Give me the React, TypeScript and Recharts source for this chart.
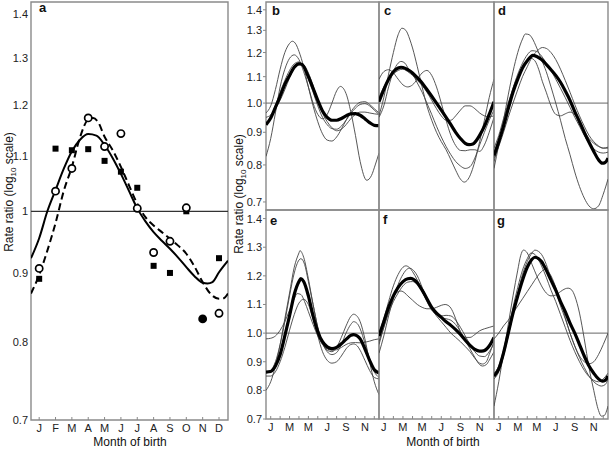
import React from 'react';
import { ComposedChart, LineChart, Line, Scatter, XAxis, YAxis, ReferenceArea, ReferenceLine } from 'recharts';

type Pt = [number, number];

const FONT = '"Liberation Sans", Arial, Helvetica, sans-serif';

const monthLetters = ['J', 'F', 'M', 'A', 'M', 'J', 'J', 'A', 'S', 'O', 'N', 'D'];
const monthNums = [1, 2, 3, 4, 5, 6, 7, 8, 9, 10, 11, 12];
const rateTicks = [0.7, 0.8, 0.9, 1.0, 1.1, 1.2, 1.3, 1.4];

// panel a: observed rate ratios per month (null = not shown)
const aSquares = [0.891, 1.113, 1.11, 1.112, 1.09, 1.07, 1.041, 0.911, 0.9, 1.0, null, 0.923];
const aCircles = [0.907, 1.035, 1.076, 1.173, 1.117, 1.142, 1.005, 0.932, 0.95, 1.006, null, 0.84];
const aFilled = [null, null, null, null, null, null, null, null, null, null, 0.832, null];

// panel a: fitted curves [month, ratio]
const aSolid: Pt[] = [[0.5, 0.923], [1, 0.955], [1.5, 1.0], [2, 1.037], [2.5, 1.075], [3, 1.108], [3.5, 1.13], [4, 1.141], [4.5, 1.138], [5, 1.12], [5.5, 1.095], [6, 1.066], [6.5, 1.035], [7, 1.005], [7.5, 0.983], [8, 0.965], [8.5, 0.951], [9, 0.938], [9.5, 0.924], [10, 0.909], [10.5, 0.895], [11, 0.885], [11.3, 0.884], [11.6, 0.886], [12, 0.901], [12.55, 0.919]];
const aDashed: Pt[] = [[0.5, 0.869], [1, 0.897], [1.5, 0.935], [2, 0.98], [2.5, 1.035], [3, 1.079], [3.5, 1.135], [4, 1.17], [4.3, 1.173], [4.6, 1.165], [5, 1.136], [5.5, 1.11], [6, 1.079], [6.5, 1.045], [7, 1.013], [7.5, 0.99], [8, 0.976], [8.5, 0.965], [9, 0.954], [9.5, 0.943], [10, 0.93], [10.5, 0.91], [11, 0.886], [11.5, 0.868], [12, 0.861], [12.3, 0.862], [12.55, 0.869]];

// panel b
const bThick: Pt[] = [[0.5, 0.925], [1, 0.948], [1.5, 0.985], [2, 1.025], [2.5, 1.07], [3, 1.105], [3.5, 1.138], [4, 1.152], [4.3, 1.15], [5, 1.1], [5.5, 1.055], [6, 1.01], [6.5, 0.972], [7, 0.95], [7.5, 0.94], [8, 0.94], [8.5, 0.946], [9, 0.955], [9.5, 0.962], [10, 0.963], [10.5, 0.957], [11, 0.945], [11.5, 0.932], [12, 0.923], [12.5, 0.922]];
const b1: Pt[] = [[0.5, 0.825], [1, 0.88], [1.5, 0.965], [2, 1.06], [2.5, 1.13], [3, 1.175], [3.5, 1.19], [4, 1.17], [4.5, 1.12], [5, 1.06], [5.5, 1.0], [6, 0.96], [6.5, 0.945], [7, 0.96], [7.5, 1.0], [8, 1.045], [8.4, 1.062], [9, 1.035], [9.5, 0.97], [10, 0.89], [10.5, 0.81], [11.2, 0.757], [11.7, 0.77], [12.1, 0.8], [12.5, 0.835]];
const b2: Pt[] = [[0.5, 0.965], [1, 0.99], [1.5, 1.05], [2, 1.13], [2.5, 1.2], [3, 1.24], [3.3, 1.25], [3.7, 1.235], [4, 1.205], [4.5, 1.14], [5, 1.06], [5.5, 0.99], [6, 0.935], [6.5, 0.895], [7, 0.875], [7.5, 0.872], [8, 0.885], [8.5, 0.91], [9, 0.94], [9.5, 0.968], [10, 0.99], [10.5, 1.003], [11, 1.005], [11.5, 0.995], [12, 0.98], [12.5, 0.965]];
const b3: Pt[] = [[0.5, 0.93], [1, 0.95], [1.5, 0.99], [2, 1.04], [2.5, 1.085], [3, 1.125], [3.5, 1.152], [4, 1.16], [4.5, 1.14], [5, 1.09], [5.5, 1.04], [6, 0.99], [6.5, 0.95], [7, 0.925], [7.5, 0.912], [8, 0.91], [8.5, 0.92], [9, 0.94], [9.5, 0.963], [10, 0.982], [10.5, 0.995], [11, 0.998], [11.5, 0.99], [12, 0.975], [12.5, 0.96]];
const b4: Pt[] = [[0.5, 0.95], [1, 0.958], [1.5, 0.98], [2, 1.01], [2.5, 1.05], [3, 1.095], [3.5, 1.135], [4, 1.155], [4.5, 1.148], [5, 1.115], [5.5, 1.065], [6, 1.01], [6.5, 0.965], [7, 0.935], [7.5, 0.915], [8, 0.905], [8.5, 0.91], [9, 0.925], [9.5, 0.945], [10, 0.96], [10.5, 0.968], [11, 0.968], [11.5, 0.965], [12, 0.962], [12.5, 0.96]];

// panel c
const cThick: Pt[] = [[0.5, 1.005], [1, 1.05], [1.5, 1.09], [2, 1.12], [2.5, 1.135], [2.8, 1.138], [3, 1.137], [3.5, 1.128], [4, 1.115], [4.5, 1.096], [5, 1.075], [5.5, 1.05], [6, 1.025], [6.5, 1.0], [7, 0.975], [7.5, 0.95], [8, 0.925], [8.5, 0.9], [9, 0.88], [9.5, 0.865], [9.9, 0.861], [10.3, 0.863], [11, 0.89], [11.5, 0.92], [12, 0.96], [12.5, 1.005]];
const c1: Pt[] = [[0.5, 0.955], [1, 1.02], [1.5, 1.11], [2, 1.2], [2.5, 1.28], [2.9, 1.31], [3.3, 1.3], [3.7, 1.26], [4, 1.22], [4.5, 1.14], [5, 1.06], [5.5, 0.99], [6, 0.94], [6.5, 0.9], [7, 0.87], [7.5, 0.845], [8, 0.815], [8.5, 0.785], [9, 0.76], [9.4, 0.752], [9.8, 0.76], [10.5, 0.81], [11, 0.87], [11.5, 0.94], [12, 1.02], [12.5, 1.09]];
const c2: Pt[] = [[0.5, 1.09], [1, 1.12], [1.5, 1.128], [2, 1.115], [2.5, 1.09], [3, 1.068], [3.5, 1.06], [4, 1.068], [4.5, 1.09], [5, 1.115], [5.5, 1.125], [6, 1.105], [6.5, 1.06], [7, 1.0], [7.5, 0.94], [8, 0.89], [8.5, 0.858], [9, 0.843], [9.5, 0.842], [10, 0.845], [10.5, 0.845], [11, 0.84], [11.5, 0.86], [12, 0.9], [12.5, 0.95]];
const c3: Pt[] = [[0.5, 0.95], [1, 0.99], [1.5, 1.06], [2, 1.12], [2.5, 1.155], [2.8, 1.162], [3.2, 1.155], [3.6, 1.13], [4, 1.11], [4.5, 1.075], [5, 1.04], [5.5, 1.0], [6, 0.96], [6.5, 0.92], [7, 0.885], [7.5, 0.855], [8, 0.83], [8.5, 0.81], [9, 0.797], [9.5, 0.79], [10, 0.795], [10.5, 0.82], [11, 0.86], [11.5, 0.9], [12, 0.94], [12.5, 0.975]];
const c4: Pt[] = [[0.5, 1.02], [1, 1.06], [1.5, 1.09], [2, 1.11], [2.5, 1.125], [3, 1.13], [3.5, 1.12], [4, 1.105], [4.5, 1.085], [5, 1.065], [5.5, 1.04], [6, 1.01], [6.5, 0.98], [7, 0.955], [7.5, 0.94], [8, 0.94], [8.5, 0.955], [9, 0.975], [9.5, 0.99], [10, 0.99], [10.5, 0.98], [11, 0.965], [11.5, 0.955], [12, 0.952], [12.5, 0.955]];

// panel d
const dThick: Pt[] = [[0.5, 0.828], [1, 0.87], [1.5, 0.92], [2, 0.98], [2.5, 1.04], [3, 1.09], [3.5, 1.135], [4, 1.165], [4.6, 1.188], [5, 1.183], [5.5, 1.17], [6, 1.15], [6.5, 1.128], [7, 1.105], [7.5, 1.078], [8, 1.045], [8.5, 1.01], [9, 0.97], [9.5, 0.935], [10, 0.9], [10.5, 0.868], [11, 0.84], [11.5, 0.815], [11.9, 0.805], [12.2, 0.807], [12.5, 0.82]];
const d1: Pt[] = [[0.5, 0.79], [1, 0.86], [1.5, 0.94], [2, 1.03], [2.5, 1.12], [3, 1.2], [3.5, 1.26], [3.8, 1.283], [4.2, 1.28], [4.5, 1.265], [5, 1.22], [5.5, 1.17], [6, 1.12], [6.5, 1.06], [7, 1.0], [7.5, 0.94], [8, 0.88], [8.5, 0.83], [9, 0.78], [9.5, 0.74], [10, 0.71], [10.5, 0.69], [11, 0.683], [11.5, 0.69], [12, 0.72], [12.5, 0.76]];
const d2: Pt[] = [[0.5, 0.82], [1, 0.855], [1.5, 0.9], [2, 0.95], [2.5, 1.0], [3, 1.05], [3.5, 1.1], [4, 1.14], [4.5, 1.18], [5, 1.205], [5.6, 1.222], [6, 1.218], [6.5, 1.2], [7, 1.17], [7.5, 1.13], [8, 1.085], [8.5, 1.04], [9, 0.995], [9.5, 0.955], [10, 0.92], [10.5, 0.89], [11, 0.87], [11.5, 0.857], [12, 0.85], [12.5, 0.85]];
const d3: Pt[] = [[0.5, 0.85], [1, 0.89], [1.5, 0.945], [2, 1.0], [2.5, 1.055], [3, 1.1], [3.5, 1.14], [4, 1.165], [4.4, 1.175], [4.8, 1.165], [5.2, 1.13], [5.6, 1.08], [6, 1.04], [6.5, 0.99], [7, 0.96], [7.5, 0.955], [8, 0.962], [8.5, 0.968], [9, 0.96], [9.5, 0.935], [10, 0.905], [10.5, 0.88], [11, 0.865], [11.5, 0.855], [12, 0.85], [12.5, 0.853]];
const d4: Pt[] = [[0.5, 0.81], [1, 0.86], [1.5, 0.925], [2, 0.99], [2.5, 1.055], [3, 1.11], [3.5, 1.155], [4, 1.19], [4.5, 1.208], [5, 1.205], [5.5, 1.185], [6, 1.155], [6.5, 1.125], [7, 1.09], [7.5, 1.055], [8, 1.02], [8.5, 0.985], [9, 0.95], [9.5, 0.92], [10, 0.89], [10.5, 0.865], [11, 0.848], [11.5, 0.838], [12, 0.835], [12.5, 0.838]];

// panel e
const eThick: Pt[] = [[0.5, 0.864], [1, 0.866], [1.5, 0.885], [2, 0.925], [2.5, 0.99], [3, 1.06], [3.5, 1.135], [4, 1.18], [4.2, 1.19], [4.5, 1.18], [5, 1.13], [5.5, 1.06], [6, 1.005], [6.5, 0.97], [7, 0.952], [7.5, 0.946], [8, 0.95], [8.5, 0.963], [9, 0.978], [9.5, 0.992], [9.8, 0.995], [10.2, 0.99], [10.5, 0.98], [11, 0.945], [11.5, 0.905], [12, 0.872], [12.5, 0.861]];
const e1: Pt[] = [[0.5, 0.8], [1, 0.83], [1.5, 0.885], [2, 0.96], [2.5, 1.05], [3, 1.14], [3.5, 1.23], [4, 1.28], [4.1, 1.288], [4.5, 1.265], [5, 1.19], [5.5, 1.1], [6, 1.02], [6.5, 0.965], [7, 0.94], [7.5, 0.935], [8, 0.95], [8.5, 0.985], [9, 1.025], [9.5, 1.058], [9.8, 1.066], [10.2, 1.058], [10.5, 1.04], [11, 0.98], [11.5, 0.9], [12, 0.83], [12.5, 0.785]];
const e2: Pt[] = [[0.5, 0.865], [1, 0.87], [1.5, 0.9], [2, 0.96], [2.5, 1.04], [3, 1.13], [3.5, 1.21], [4, 1.255], [4.2, 1.26], [4.6, 1.24], [5, 1.18], [5.5, 1.1], [6, 1.02], [6.5, 0.965], [7, 0.935], [7.5, 0.925], [8, 0.932], [8.5, 0.96], [9, 1.0], [9.5, 1.03], [9.8, 1.04], [10.2, 1.033], [10.5, 1.015], [11, 0.965], [11.5, 0.91], [12, 0.865], [12.5, 0.845]];
const e3: Pt[] = [[0.5, 0.98], [1, 0.982], [1.5, 0.99], [2, 1.01], [2.5, 1.04], [3, 1.08], [3.5, 1.12], [3.8, 1.138], [4.2, 1.135], [4.6, 1.11], [5, 1.075], [5.5, 1.03], [6, 0.99], [6.5, 0.96], [7, 0.945], [7.5, 0.94], [8, 0.942], [8.5, 0.95], [9, 0.96], [9.5, 0.966], [10, 0.967], [10.5, 0.966], [11, 0.968], [11.5, 0.972], [12, 0.977], [12.5, 0.98]];
const e4: Pt[] = [[0.5, 0.85], [1, 0.85], [1.5, 0.865], [2, 0.9], [2.5, 0.95], [3, 1.01], [3.5, 1.065], [4, 1.105], [4.5, 1.118], [5, 1.1], [5.5, 1.05], [6, 0.99], [6.5, 0.935], [7, 0.905], [7.5, 0.895], [8, 0.9], [8.5, 0.92], [9, 0.945], [9.5, 0.96], [9.8, 0.962], [10.2, 0.955], [10.5, 0.94], [11, 0.905], [11.5, 0.87], [12, 0.845], [12.5, 0.84]];

// panel f
const fThick: Pt[] = [[0.5, 0.99], [1, 1.04], [1.5, 1.09], [2, 1.13], [2.5, 1.16], [3, 1.18], [3.5, 1.19], [3.8, 1.191], [4.2, 1.185], [4.5, 1.175], [5, 1.15], [5.5, 1.12], [6, 1.09], [6.5, 1.07], [7, 1.055], [7.5, 1.04], [8, 1.027], [8.5, 1.012], [9, 0.995], [9.5, 0.975], [10, 0.957], [10.5, 0.943], [11, 0.937], [11.4, 0.938], [12, 0.955], [12.5, 0.985]];
const f1: Pt[] = [[0.5, 1.0], [1, 1.05], [1.5, 1.11], [2, 1.165], [2.5, 1.205], [3, 1.23], [3.3, 1.235], [3.7, 1.228], [4, 1.215], [4.5, 1.185], [5, 1.15], [5.5, 1.115], [6, 1.085], [6.5, 1.065], [7, 1.055], [7.5, 1.05], [8, 1.045], [8.5, 1.03], [9, 1.005], [9.5, 0.975], [10, 0.945], [10.5, 0.915], [11, 0.89], [11.3, 0.885], [11.7, 0.89], [12, 0.905], [12.5, 0.935]];
const f2: Pt[] = [[0.5, 0.96], [1, 1.02], [1.5, 1.08], [2, 1.125], [2.5, 1.145], [2.8, 1.147], [3.2, 1.14], [3.5, 1.13], [4, 1.115], [4.5, 1.1], [5, 1.09], [5.5, 1.085], [6, 1.085], [6.5, 1.09], [7, 1.097], [7.4, 1.1], [7.8, 1.095], [8.2, 1.075], [8.5, 1.05], [9, 1.005], [9.5, 0.985], [10, 0.985], [10.5, 0.995], [11, 1.008], [11.5, 1.015], [12, 1.02], [12.5, 1.025]];
const f3: Pt[] = [[0.5, 0.93], [1, 0.99], [1.5, 1.06], [2, 1.12], [2.5, 1.17], [3, 1.205], [3.5, 1.225], [3.7, 1.227], [4, 1.222], [4.5, 1.2], [5, 1.16], [5.5, 1.12], [6, 1.085], [6.5, 1.06], [7, 1.04], [7.5, 1.02], [8, 1.0], [8.5, 0.985], [9, 0.97], [9.5, 0.953], [10, 0.935], [10.5, 0.912], [11, 0.895], [11.3, 0.892], [11.7, 0.9], [12, 0.925], [12.5, 0.97]];
const f4: Pt[] = [[0.5, 0.97], [1, 1.02], [1.5, 1.07], [2, 1.11], [2.5, 1.14], [3, 1.165], [3.5, 1.178], [4, 1.18], [4.5, 1.17], [5, 1.145], [5.5, 1.11], [6, 1.08], [6.5, 1.065], [7, 1.06], [7.5, 1.062], [8, 1.06], [8.5, 1.045], [9, 1.02], [9.5, 0.99], [10, 0.96], [10.5, 0.935], [11, 0.92], [11.5, 0.918], [12, 0.935], [12.5, 0.965]];

// panel g
const gThick: Pt[] = [[0.5, 0.85], [1, 0.875], [1.5, 0.93], [2, 1.0], [2.5, 1.07], [3, 1.13], [3.5, 1.185], [4, 1.23], [4.5, 1.258], [4.8, 1.265], [5.2, 1.26], [5.5, 1.25], [6, 1.22], [6.5, 1.185], [7, 1.15], [7.5, 1.11], [8, 1.075], [8.5, 1.035], [9, 1.0], [9.5, 0.96], [10, 0.92], [10.5, 0.885], [11, 0.86], [11.5, 0.84], [11.9, 0.832], [12.2, 0.835], [12.5, 0.85]];
const g1: Pt[] = [[0.5, 0.745], [1, 0.83], [1.5, 0.93], [2, 1.03], [2.5, 1.13], [3, 1.22], [3.3, 1.27], [3.6, 1.29], [4, 1.28], [4.5, 1.24], [5, 1.2], [5.5, 1.165], [6, 1.14], [6.5, 1.13], [7, 1.133], [7.5, 1.145], [8, 1.155], [8.3, 1.157], [8.7, 1.15], [9, 1.13], [9.5, 1.07], [10, 0.98], [10.5, 0.88], [11, 0.8], [11.5, 0.73], [11.8, 0.71], [12.1, 0.712], [12.5, 0.745]];
const g2: Pt[] = [[0.5, 0.98], [1, 1.0], [1.5, 1.025], [2, 1.045], [2.5, 1.07], [3, 1.095], [3.5, 1.12], [4, 1.145], [4.5, 1.17], [5, 1.195], [5.5, 1.215], [5.8, 1.222], [6.2, 1.215], [6.5, 1.2], [7, 1.16], [7.5, 1.11], [8, 1.055], [8.5, 1.0], [9, 0.955], [9.5, 0.92], [10, 0.9], [10.5, 0.893], [11, 0.9], [11.5, 0.925], [12, 0.96], [12.5, 1.0]];
const g3: Pt[] = [[0.5, 0.84], [1, 0.865], [1.5, 0.92], [2, 0.99], [2.5, 1.065], [3, 1.14], [3.5, 1.205], [4, 1.25], [4.5, 1.28], [4.8, 1.29], [5.2, 1.285], [5.5, 1.275], [6, 1.24], [6.5, 1.19], [7, 1.145], [7.5, 1.095], [8, 1.05], [8.5, 1.0], [9, 0.955], [9.5, 0.915], [10, 0.88], [10.5, 0.85], [11, 0.83], [11.5, 0.818], [11.8, 0.815], [12.2, 0.82], [12.5, 0.84]];
const g4: Pt[] = [[0.5, 0.86], [1, 0.885], [1.5, 0.94], [2, 1.01], [2.5, 1.09], [3, 1.16], [3.5, 1.22], [4, 1.26], [4.4, 1.28], [4.8, 1.275], [5.2, 1.255], [5.5, 1.235], [6, 1.195], [6.5, 1.15], [7, 1.11], [7.5, 1.065], [8, 1.02], [8.5, 0.975], [9, 0.935], [9.5, 0.9], [10, 0.87], [10.5, 0.848], [11, 0.835], [11.5, 0.83], [12, 0.84], [12.5, 0.86]];

const toRows = (c: Pt[]) => c.map(([m, v]) => ({ m, v }));
const toMarks = (vals: (number | null)[]) =>
  vals.map((v, i) => ({ m: i + 1, v })).filter((d) => d.v !== null);

const MonthTick = (props: any) => {
  const { x, y, payload, step = 1 } = props;
  const i = Math.round(payload.value) - 1;
  return (
    <g>
      <line x1={x} x2={x} y1={y} y2={y - 3} stroke="#888" />
      {i % step === 0 && (
        <text x={x} y={y + 12} textAnchor="middle" fontSize={11} fill="#222" fontFamily={FONT}>
          {monthLetters[i]}
        </text>
      )}
    </g>
  );
};

const RateTick = (props: any) => {
  const { x, y, payload, short, mark } = props;
  const v = payload.value;
  const label = short && Math.abs(v - 1) < 1e-9 ? '1' : v.toFixed(1);
  return (
    <g>
      {mark && <line x1={x - 3} x2={x} y1={y} y2={y} stroke="#888" />}
      <text x={x - (mark ? 4 : 3)} y={y + 4} textAnchor="end" fontSize={11} fill="#222" fontFamily={FONT}>
        {label}
      </text>
    </g>
  );
};

const square = (p: any) => <rect x={p.cx - 3} y={p.cy - 3} width={6} height={6} fill="#000" />;
const ring = (p: any) => <circle cx={p.cx} cy={p.cy} r={3.6} fill="#fff" stroke="#000" strokeWidth={1.7} />;
const dotFilled = (p: any) => <circle cx={p.cx} cy={p.cy} r={4.4} fill="#000" />;

const PanelA = () => (
  <div style={{ position: 'absolute', left: 0, top: 0 }}>
    <ComposedChart width={232} height={449} margin={{ top: 2, right: 4, bottom: 0, left: 0 }}>
      <XAxis type="number" dataKey="m" domain={[0.5, 12.55]} ticks={monthNums} interval={0} tickSize={0} tickMargin={0}
        axisLine={false} tickLine={false} tick={<MonthTick step={1} />} height={29} allowDataOverflow />
      <YAxis type="number" dataKey="v" scale="log" domain={[0.7, 1.43]} ticks={rateTicks} interval={0} tickSize={0} tickMargin={0}
        axisLine={false} tickLine={false} tick={<RateTick short />} width={31} allowDataOverflow />
      <ReferenceArea x1={0.5} x2={12.55} y1={0.7} y2={1.43} fill="none" stroke="#8a8a8a" strokeWidth={1.4} />
      <ReferenceLine y={1} stroke="#333" strokeWidth={1.2} />
      <Line data={toRows(aSolid)} dataKey="v" type="monotone" stroke="#000" strokeWidth={2} dot={false} isAnimationActive={false} />
      <Line data={toRows(aDashed)} dataKey="v" type="monotone" stroke="#000" strokeWidth={2} strokeDasharray="7 4" dot={false} isAnimationActive={false} />
      <Scatter data={toMarks(aSquares)} dataKey="v" shape={square} isAnimationActive={false} />
      <Scatter data={toMarks(aCircles)} dataKey="v" shape={ring} isAnimationActive={false} />
      <Scatter data={toMarks(aFilled)} dataKey="v" shape={dotFilled} isAnimationActive={false} />
    </ComposedChart>
  </div>
);

type SmallProps = { col: number; row: number; thick: Pt[]; thin: Pt[][] };

const colLeft = [230, 378, 493];
const colWidth = [150, 117, 116];

const SmallPanel = ({ col, row, thick, thin }: SmallProps) => {
  const log = row === 0;
  const dom: [number, number] = log ? [0.68, 1.44] : [0.7, 1.43];
  return (
    <div style={{ position: 'absolute', left: colLeft[col], top: row === 0 ? 0 : 209 }}>
      <LineChart width={colWidth[col]} height={row === 0 ? 212 : 240}
        margin={{ top: row === 0 ? 2 : 1, right: 1, bottom: row === 0 ? 2 : 0, left: col === 0 ? 0 : 1 }}>
        <XAxis type="number" dataKey="m" domain={[0.5, 12.5]} ticks={monthNums} interval={0} tickSize={0} tickMargin={0}
          axisLine={false} tickLine={false} tick={<MonthTick step={2} />} height={30} hide={row === 0} allowDataOverflow />
        <YAxis type="number" dataKey="v" scale={log ? 'log' : 'linear'} domain={dom} ticks={rateTicks} interval={0} tickSize={0}
          tickMargin={0} axisLine={false} tickLine={false} tick={<RateTick mark />} width={36} hide={col > 0} allowDataOverflow />
        <ReferenceArea x1={0.5} x2={12.5} y1={dom[0]} y2={dom[1]} fill="none" stroke="#8a8a8a" strokeWidth={1.4} />
        <ReferenceLine y={1} stroke="#666" strokeWidth={1} />
        {thin.map((c, i) => (
          <Line key={i} data={toRows(c)} dataKey="v" type="monotone" stroke="#444" strokeWidth={0.9} dot={false} isAnimationActive={false} />
        ))}
        <Line data={toRows(thick)} dataKey="v" type="monotone" stroke="#000" strokeWidth={3.2} dot={false} isAnimationActive={false} />
      </LineChart>
    </div>
  );
};

const Titles = () => (
  <svg width={609} height={449} style={{ position: 'absolute', left: 0, top: 0, pointerEvents: 'none' }} fontFamily={FONT} fill="#111">
    <text x={39} y={12} fontSize={13} fontWeight="bold">a</text>
    <text x={272} y={15} fontSize={13} fontWeight="bold">b</text>
    <text x={384} y={15} fontSize={13} fontWeight="bold">c</text>
    <text x={498} y={15} fontSize={13} fontWeight="bold">d</text>
    <text x={270} y={225} fontSize={13} fontWeight="bold">e</text>
    <text x={383} y={224} fontSize={13} fontWeight="bold">f</text>
    <text x={497} y={225} fontSize={13} fontWeight="bold">g</text>
    <text transform="translate(12.5,192) rotate(-90)" textAnchor="middle" fontSize={12}>
      Rate ratio (log<tspan fontSize={8} dy={3}>10</tspan><tspan dy={-3}> scale)</tspan>
    </text>
    <text transform="translate(243,194) rotate(-90)" textAnchor="middle" fontSize={12}>
      Rate  ratio (log<tspan fontSize={8} dy={3}>10</tspan><tspan dy={-3}> scale)</tspan>
    </text>
    <text x={130} y={446} textAnchor="middle" fontSize={12}>Month of birth</text>
    <text x={443} y={446} textAnchor="middle" fontSize={12}>Month of birth</text>
  </svg>
);

export default function App() {
  return (
    <div style={{ position: 'absolute', left: 0, top: 0, width: 609, height: 449, background: '#fff', fontFamily: FONT }}>
      <PanelA />
      <SmallPanel col={0} row={0} thick={bThick} thin={[b1, b2, b3, b4]} />
      <SmallPanel col={1} row={0} thick={cThick} thin={[c1, c2, c3, c4]} />
      <SmallPanel col={2} row={0} thick={dThick} thin={[d1, d2, d3, d4]} />
      <SmallPanel col={0} row={1} thick={eThick} thin={[e1, e2, e3, e4]} />
      <SmallPanel col={1} row={1} thick={fThick} thin={[f1, f2, f3, f4]} />
      <SmallPanel col={2} row={1} thick={gThick} thin={[g1, g2, g3, g4]} />
      <Titles />
    </div>
  );
}
